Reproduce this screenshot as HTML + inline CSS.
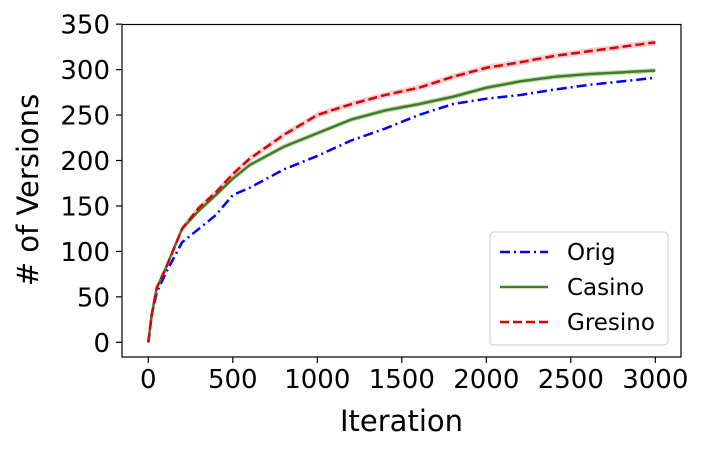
<!DOCTYPE html>
<html><head><meta charset="utf-8"><style>
body{margin:0;background:#fff;}
svg text{font-family:"DejaVu Sans","Liberation Sans",sans-serif;fill:#000;}
</style></head><body>
<svg id="chart" width="707" height="452" xmlns="http://www.w3.org/2000/svg">
<g id="plot"></g>
</svg>
<script>
const iterations=[0,20,50,100,200,300,400,500,600,700,800,1000,1200,1400,1600,1800,2000,2200,2400,2600,2800,3000];
const origValues=[0,30,55,75,110,125,140,162,170,180,190,205,222,235,250,262,268,272,278,283,287,291];
const casinoValues=[0,30,60,80,125,145,162,180,195,205,215,230,245,255,262,270,280,287,292,295,297,299];
const gresinoValues=[0,30,60,80,125,148,165,185,202,215,228,250,262,272,280,292,302,308,315,320,325,330];
const xTicks=[0,500,1000,1500,2000,2500,3000];
const yTicks=[0,50,100,150,200,250,300,350];
const legendLabels=["Orig","Casino","Gresino"];

const NS="http://www.w3.org/2000/svg";
const L=122,R=681,T=24.5,B=357;
const x0=148.3,x1=655.3;
function xs(v){return x0+(v/3000)*(x1-x0);}
function ys(v){return 342.3-v*(45.45/50);}
const g=document.getElementById('plot');
function mk(tag,attrs,parent){const e=document.createElementNS(NS,tag);for(const k in attrs)e.setAttribute(k,attrs[k]);(parent||g).appendChild(e);return e;}

function pathFor(vals,off){return vals.map((v,i)=>(i?'L':'M')+xs(iterations[i]).toFixed(2)+','+(ys(v)+off).toFixed(2)).join(' ');}
function band(vals,w,color){
  let d=vals.map((v,i)=>(i?'L':'M')+xs(iterations[i])+','+(ys(v)-w)).join(' ');
  for(let i=vals.length-1;i>=0;i--)d+='L'+xs(iterations[i])+','+(ys(vals[i])+w);
  return mk('path',{d:d+'Z',fill:color,opacity:0.3});
}
let b1=band(casinoValues,2.5,'#4a8a2a');


let b2=band(gresinoValues,3,'#e06070');



let l1=mk('path',{d:pathFor(origValues,0),fill:'none',stroke:'#0000ff','stroke-width':2.5,'stroke-dasharray':'10 4 2 4'});


let l2=mk('path',{d:pathFor(casinoValues,0),fill:'none',stroke:'#3f7f1f','stroke-width':2.5});


let l3=mk('path',{d:pathFor(gresinoValues,0),fill:'none',stroke:'#dd0000','stroke-width':2.5,'stroke-dasharray':'9 4'});



let frame=mk('rect',{x:L,y:T,width:R-L,height:B-T,fill:'none',stroke:'#000','stroke-width':1.2});



xTicks.forEach(t=>{
  let tk=mk('line',{x1:xs(t),x2:xs(t),y1:B,y2:B+6,stroke:'#000','stroke-width':1.2});
  
  
  let tx=mk('text',{x:xs(t),y:B+31,'text-anchor':'middle','font-size':26});
  tx.textContent=t;
  
  
});
yTicks.forEach(t=>{
  let tk=mk('line',{x1:L-6,x2:L,y1:ys(t),y2:ys(t),stroke:'#000','stroke-width':1.2});
  
  
  let tx=mk('text',{x:L-12,y:ys(t)+9.5,'text-anchor':'end','font-size':26});
  tx.textContent=t;
  
  
});
let xt=mk('text',{x:(L+R)/2,y:431,'text-anchor':'middle','font-size':29});
xt.textContent='Iteration';


let yt=mk('text',{x:0,y:0,'text-anchor':'middle','font-size':29,transform:'translate(38,190) rotate(-90)'});
yt.textContent='# of Versions';



let lg=mk('g',{});


mk('rect',{x:490,y:232,width:178,height:113,rx:4,fill:'#fff',stroke:'#ccc','stroke-width':1},lg);
const styles=[{s:'#0000ff',d:'10 4 2 4'},{s:'#3f7f1f',d:''},{s:'#dd0000',d:'9 4'}];
legendLabels.forEach((lab,i)=>{
  const y=252+i*35;
  let ln=mk('line',{x1:500,x2:548,y1:y,y2:y,stroke:styles[i].s,'stroke-width':2.5,'stroke-dasharray':styles[i].d},lg);
  
  
  let tx=mk('text',{x:567,y:y+8,'font-size':23},lg);
  tx.textContent=lab;
  
  
});
</script>
</body></html>
